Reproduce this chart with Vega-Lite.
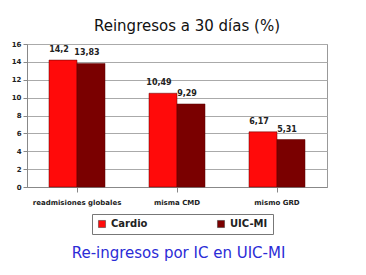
{
  "$schema": "https://vega.github.io/schema/vega-lite/v6.json",
  "autosize": "none",
  "width": 300,
  "height": 143,
  "padding": {"left": 27, "top": 44, "right": 39, "bottom": 88},
  "background": "white",
  "title": {"text": "Reingresos a 30 días (%)", "fontSize": 15, "font": "DejaVu Sans", "fontWeight": "normal", "color": "#111", "anchor": "middle", "offset": 6, "dx": 10},
  "config": {"view": {"stroke": "#999"}, "axis": {"labelFont": "DejaVu Sans", "labelFontWeight": "bold", "labelFontSize": 7, "labelColor": "#222"}},
  "data": {"values": [
    {"cat": "readmisiones globales", "serie": "Cardio", "valor": 14.2, "label": "14,2"},
    {"cat": "readmisiones globales", "serie": "UIC-MI", "valor": 13.83, "label": "13,83"},
    {"cat": "misma CMD", "serie": "Cardio", "valor": 10.49, "label": "10,49"},
    {"cat": "misma CMD", "serie": "UIC-MI", "valor": 9.29, "label": "9,29"},
    {"cat": "mismo GRD", "serie": "Cardio", "valor": 6.17, "label": "6,17"},
    {"cat": "mismo GRD", "serie": "UIC-MI", "valor": 5.31, "label": "5,31"}
  ]},
  "encoding": {
    "x": {"field": "cat", "type": "nominal", "sort": null, "scale": {"paddingInner": 0.44, "paddingOuter": 0.22},
      "axis": {"labelAngle": 0, "title": "Re-ingresos por IC en UIC-MI", "titleColor": "#2b2bd6", "titleFontSize": 15, "titleFont": "DejaVu Sans", "titleFontWeight": "normal", "titleY": 58, "titleX": 151, "tickColor": "#888", "domainColor": "#888", "labelPadding": 6}},
    "xOffset": {"field": "serie", "type": "nominal", "scale": {"paddingInner": 0, "paddingOuter": 0}},
    "y": {"field": "valor", "type": "quantitative", "scale": {"domain": [0, 16]},
      "axis": {"values": [0, 2, 4, 6, 8, 10, 12, 14, 16], "title": null, "gridColor": "#aaa", "domainColor": "#888", "tickColor": "#888", "tickSize": 4}}
  },
  "layer": [
    {"mark": {"type": "bar", "stroke": "#5a0000", "strokeWidth": 0.5},
      "encoding": {"color": {"field": "serie", "type": "nominal", "scale": {"domain": ["Cardio", "UIC-MI"], "range": ["#ff0a0a", "#7a0000"]},
        "legend": {"orient": "none", "legendX": 65, "legendY": 170, "direction": "horizontal", "title": null, "symbolType": "square", "symbolSize": 50, "labelFontSize": 10, "labelFont": "DejaVu Sans", "labelFontWeight": "bold", "columnPadding": 68, "padding": 5, "strokeColor": "#777", "fillColor": "white", "symbolStrokeColor": "#333", "symbolStrokeWidth": 0.5, "labelColor": "#222"}}}},
    {"mark": {"type": "text", "dy": -10, "dx": -4, "font": "DejaVu Sans", "fontWeight": "bold", "fontSize": 8, "color": "#222"},
      "encoding": {"text": {"field": "label"}}}
  ]
}
